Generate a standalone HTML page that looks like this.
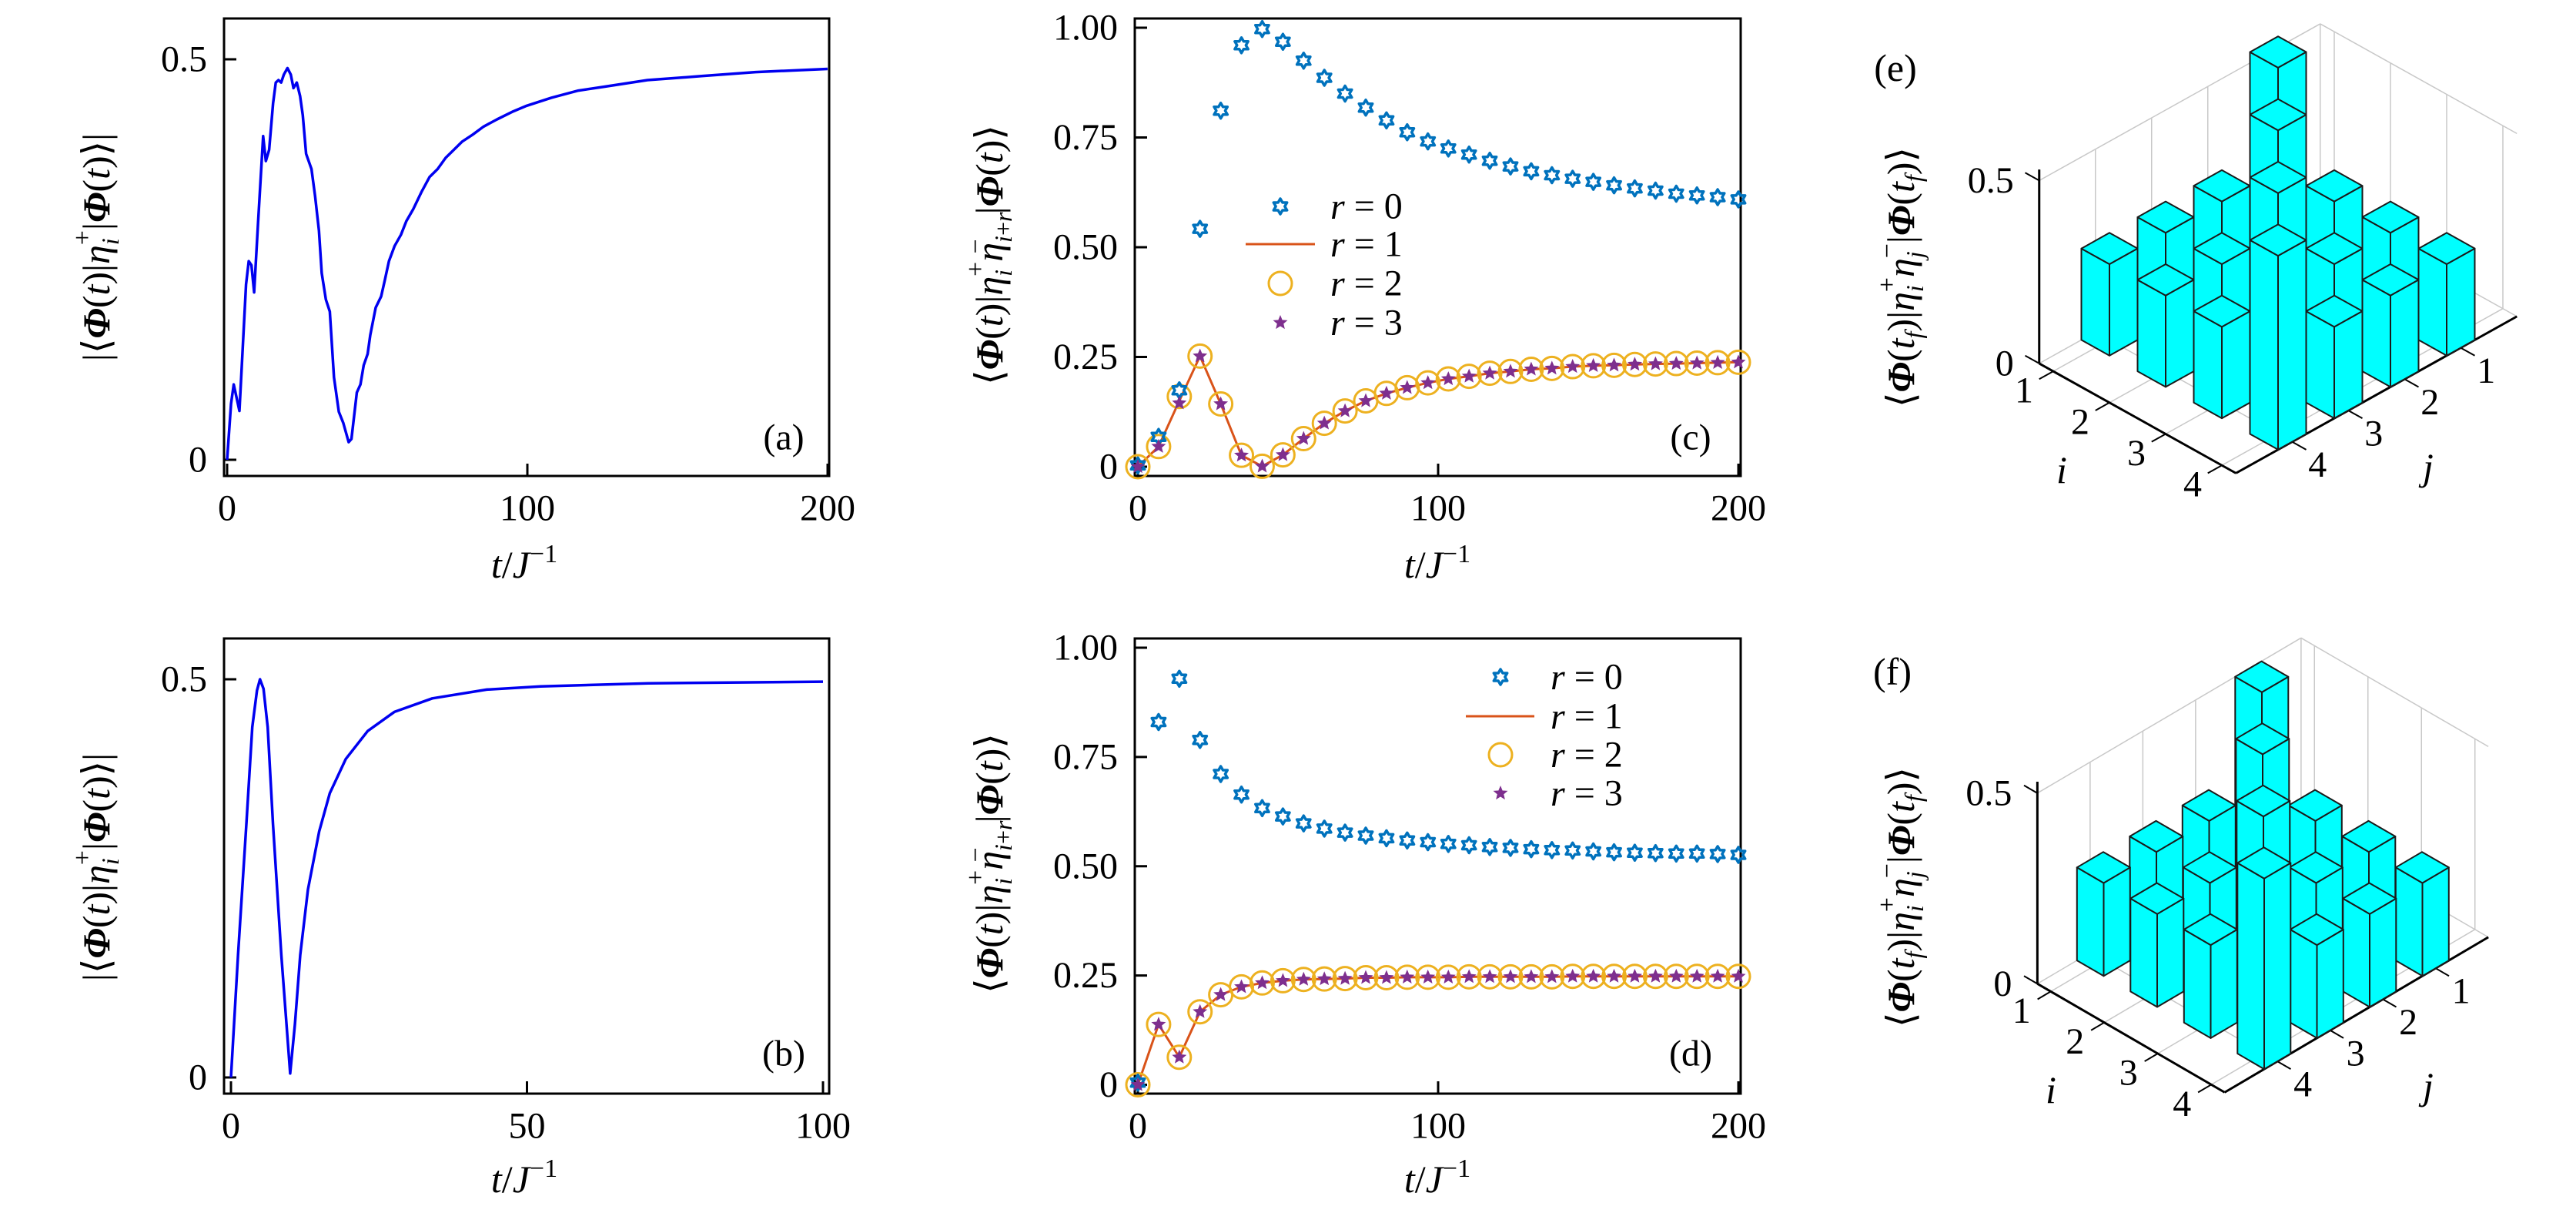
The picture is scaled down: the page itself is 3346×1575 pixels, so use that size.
<!DOCTYPE html>
<html><head><meta charset="utf-8"><style>
html,body{margin:0;padding:0;background:#fff;}
svg{display:block;font-family:"Liberation Serif",serif;}
</style></head><body>
<svg id="fig" xmlns="http://www.w3.org/2000/svg" width="3346" height="1575" viewBox="0 0 3346 1575">
<rect width="3346" height="1575" fill="#fff"/>
<g id="gA"></g>
<g id="gB"></g>
<g id="gC"></g>
<g id="gD"></g>
<g id="gE"></g>
<g id="gF"></g>

<!-- y titles -->
<text transform="translate(142,321) rotate(-90)" text-anchor="middle" font-size="50">|⟨<tspan font-style="italic" font-weight="bold">Φ</tspan>(<tspan font-style="italic">t</tspan>)|<tspan font-style="italic">η</tspan><tspan font-size="32" dy="12" font-style="italic">i</tspan><tspan font-size="34" dx="-9" dy="-36">+</tspan><tspan dy="24">|</tspan><tspan font-style="italic" font-weight="bold">Φ</tspan>(<tspan font-style="italic">t</tspan>)⟩|</text>
<text transform="translate(142,1126) rotate(-90)" text-anchor="middle" font-size="50">|⟨<tspan font-style="italic" font-weight="bold">Φ</tspan>(<tspan font-style="italic">t</tspan>)|<tspan font-style="italic">η</tspan><tspan font-size="32" dy="12" font-style="italic">i</tspan><tspan font-size="34" dx="-9" dy="-36">+</tspan><tspan dy="24">|</tspan><tspan font-style="italic" font-weight="bold">Φ</tspan>(<tspan font-style="italic">t</tspan>)⟩|</text>
<text transform="translate(1302,331) rotate(-90)" text-anchor="middle" font-size="50">⟨<tspan font-style="italic" font-weight="bold">Φ</tspan>(<tspan font-style="italic">t</tspan>)|<tspan font-style="italic">η</tspan><tspan font-size="32" dy="12" font-style="italic">i</tspan><tspan font-size="34" dx="-9" dy="-36">+</tspan><tspan font-style="italic" dy="24">η</tspan><tspan font-size="32" dy="12" font-style="italic">i</tspan><tspan font-size="32" dy="0">+</tspan><tspan font-size="32" font-style="italic">r</tspan><tspan font-size="34" dx="-54" dy="-36">−</tspan><tspan dx="32" dy="24">|</tspan><tspan font-style="italic" font-weight="bold">Φ</tspan>(<tspan font-style="italic">t</tspan>)⟩</text>
<text transform="translate(1302,1121) rotate(-90)" text-anchor="middle" font-size="50">⟨<tspan font-style="italic" font-weight="bold">Φ</tspan>(<tspan font-style="italic">t</tspan>)|<tspan font-style="italic">η</tspan><tspan font-size="32" dy="12" font-style="italic">i</tspan><tspan font-size="34" dx="-9" dy="-36">+</tspan><tspan font-style="italic" dy="24">η</tspan><tspan font-size="32" dy="12" font-style="italic">i</tspan><tspan font-size="32" dy="0">+</tspan><tspan font-size="32" font-style="italic">r</tspan><tspan font-size="34" dx="-54" dy="-36">−</tspan><tspan dx="32" dy="24">|</tspan><tspan font-style="italic" font-weight="bold">Φ</tspan>(<tspan font-style="italic">t</tspan>)⟩</text>
<text transform="translate(2486,360) rotate(-90)" text-anchor="middle" font-size="50">⟨<tspan font-style="italic" font-weight="bold">Φ</tspan>(<tspan font-style="italic">t</tspan><tspan font-size="32" dy="10" font-style="italic">f</tspan><tspan dy="-10">)|</tspan><tspan font-style="italic">η</tspan><tspan font-size="32" dy="12" font-style="italic">i</tspan><tspan font-size="34" dx="-9" dy="-36">+</tspan><tspan font-style="italic" dy="24">η</tspan><tspan font-size="32" dy="12" font-style="italic">j</tspan><tspan font-size="34" dx="-9" dy="-36">−</tspan><tspan dy="24">|</tspan><tspan font-style="italic" font-weight="bold">Φ</tspan>(<tspan font-style="italic">t</tspan><tspan font-size="32" dy="10" font-style="italic">f</tspan><tspan dy="-10">)⟩</tspan></text>
<text transform="translate(2486,1165) rotate(-90)" text-anchor="middle" font-size="50">⟨<tspan font-style="italic" font-weight="bold">Φ</tspan>(<tspan font-style="italic">t</tspan><tspan font-size="32" dy="10" font-style="italic">f</tspan><tspan dy="-10">)|</tspan><tspan font-style="italic">η</tspan><tspan font-size="32" dy="12" font-style="italic">i</tspan><tspan font-size="34" dx="-9" dy="-36">+</tspan><tspan font-style="italic" dy="24">η</tspan><tspan font-size="32" dy="12" font-style="italic">j</tspan><tspan font-size="34" dx="-9" dy="-36">−</tspan><tspan dy="24">|</tspan><tspan font-style="italic" font-weight="bold">Φ</tspan>(<tspan font-style="italic">t</tspan><tspan font-size="32" dy="10" font-style="italic">f</tspan><tspan dy="-10">)⟩</tspan></text>

<!-- x titles -->
<text x="681" y="750" text-anchor="middle" font-size="50"><tspan font-style="italic">t</tspan>/<tspan font-style="italic">J</tspan><tspan font-size="34" dy="-20">−1</tspan></text>
<text x="681" y="1548" text-anchor="middle" font-size="50"><tspan font-style="italic">t</tspan>/<tspan font-style="italic">J</tspan><tspan font-size="34" dy="-20">−1</tspan></text>
<text x="1867" y="750" text-anchor="middle" font-size="50"><tspan font-style="italic">t</tspan>/<tspan font-style="italic">J</tspan><tspan font-size="34" dy="-20">−1</tspan></text>
<text x="1867" y="1548" text-anchor="middle" font-size="50"><tspan font-style="italic">t</tspan>/<tspan font-style="italic">J</tspan><tspan font-size="34" dy="-20">−1</tspan></text>

<!-- panel labels -->
<text x="1018" y="568" text-anchor="middle" dominant-baseline="central" font-size="48">(a)</text>
<text x="1018" y="1368" text-anchor="middle" dominant-baseline="central" font-size="48">(b)</text>
<text x="2196" y="568" text-anchor="middle" dominant-baseline="central" font-size="48">(c)</text>
<text x="2196" y="1368" text-anchor="middle" dominant-baseline="central" font-size="48">(d)</text>
<text x="2462" y="88" text-anchor="middle" dominant-baseline="central" font-size="50">(e)</text>
<text x="2458" y="872" text-anchor="middle" dominant-baseline="central" font-size="50">(f)</text>

<!-- legends -->
<g font-size="48">
<text x="1728" y="268" dominant-baseline="central"><tspan font-style="italic">r</tspan> = 0</text>
<text x="1728" y="317" dominant-baseline="central"><tspan font-style="italic">r</tspan> = 1</text>
<text x="1728" y="368" dominant-baseline="central"><tspan font-style="italic">r</tspan> = 2</text>
<text x="1728" y="419" dominant-baseline="central"><tspan font-style="italic">r</tspan> = 3</text>
</g>
<g font-size="48">
<text x="2014" y="879" dominant-baseline="central"><tspan font-style="italic">r</tspan> = 0</text>
<text x="2014" y="930" dominant-baseline="central"><tspan font-style="italic">r</tspan> = 1</text>
<text x="2014" y="980" dominant-baseline="central"><tspan font-style="italic">r</tspan> = 2</text>
<text x="2014" y="1030" dominant-baseline="central"><tspan font-style="italic">r</tspan> = 3</text>
</g>
</svg>
<script>
// ---- data ----
const tA = [0,1.3,2.2,4.1,6.3,7.2,8.1,9,10.3,12,12.9,14,15.3,16.2,17.1,18,18.9,20.1,21.2,22.1,23.2,24.3,25.2,26.3,28.1,29.3,30.6,31.5,32.9,34.2,35.6,37.2,38.7,40.5,41.4,43.2,44.4,45.5,46.8,47.7,49.5,51.3,52.5,53.9,55.8,57.9,59.7,62,64.7,67.4,70.1,72.8,75.5,78.2,81.8,85.4,89.9,95.3,99.8,108,117,126,140,158,176,200];
const vA = [0,0.07,0.094,0.061,0.219,0.248,0.243,0.209,0.296,0.404,0.373,0.387,0.445,0.471,0.474,0.471,0.481,0.489,0.481,0.464,0.471,0.454,0.43,0.382,0.363,0.329,0.286,0.233,0.2,0.185,0.103,0.06,0.046,0.022,0.026,0.084,0.094,0.118,0.132,0.156,0.19,0.204,0.224,0.248,0.267,0.281,0.298,0.313,0.334,0.353,0.363,0.377,0.387,0.397,0.406,0.416,0.425,0.435,0.442,0.452,0.461,0.466,0.474,0.479,0.484,0.488];
const tB = [0,1.2,2.6,3.6,4.4,4.9,5.5,6.2,7.1,8.5,10,10.8,11.7,13,14.9,16.7,19.4,23.1,27.6,34,43.2,52.3,70.5,100];
const vB = [0,0.154,0.318,0.44,0.486,0.5,0.488,0.44,0.318,0.154,0.005,0.067,0.154,0.236,0.309,0.357,0.4,0.435,0.459,0.476,0.487,0.491,0.495,0.497];
const tGrid = [0,6.9,13.8,20.7,27.6,34.5,41.4,48.3,55.2,62.1,69,75.9,82.8,89.7,96.6,103.4,110.3,117.2,124.1,131,137.9,144.8,151.7,158.6,165.5,172.4,179.3,186.2,193.1,200];
const c0 = [0.003,0.068,0.174,0.542,0.811,0.96,0.997,0.968,0.925,0.886,0.85,0.818,0.789,0.762,0.741,0.725,0.711,0.697,0.684,0.673,0.664,0.656,0.649,0.641,0.634,0.629,0.622,0.618,0.614,0.609];
const c1 = [0,0.046,0.15,0.252,0.143,0.026,0.001,0.027,0.064,0.099,0.127,0.15,0.167,0.18,0.191,0.2,0.206,0.213,0.217,0.222,0.224,0.228,0.23,0.231,0.233,0.234,0.235,0.236,0.237,0.238];
const c2 = [0,0.046,0.16,0.252,0.143,0.026,0.001,0.027,0.064,0.099,0.127,0.15,0.167,0.18,0.191,0.2,0.206,0.213,0.217,0.222,0.224,0.228,0.23,0.231,0.233,0.234,0.235,0.236,0.237,0.238];
const c3 = [0,0.046,0.145,0.252,0.143,0.026,0.001,0.027,0.064,0.099,0.127,0.15,0.167,0.18,0.191,0.2,0.206,0.213,0.217,0.222,0.224,0.228,0.23,0.231,0.233,0.234,0.235,0.236,0.237,0.238];
const d0 = [0.005,0.83,0.929,0.789,0.711,0.664,0.633,0.614,0.598,0.586,0.577,0.57,0.564,0.559,0.555,0.551,0.548,0.544,0.542,0.539,0.537,0.536,0.534,0.532,0.531,0.53,0.529,0.529,0.528,0.526];
const d1 = [0,0.138,0.063,0.167,0.206,0.224,0.233,0.238,0.241,0.242,0.243,0.245,0.245,0.246,0.246,0.246,0.247,0.247,0.247,0.247,0.247,0.248,0.248,0.248,0.248,0.248,0.248,0.248,0.248,0.248];
const d2 = [0,0.138,0.063,0.167,0.206,0.224,0.233,0.238,0.241,0.242,0.243,0.245,0.245,0.246,0.246,0.246,0.247,0.247,0.247,0.247,0.247,0.248,0.248,0.248,0.248,0.248,0.248,0.248,0.248,0.248];
const d3 = [0,0.138,0.063,0.167,0.206,0.224,0.233,0.238,0.241,0.242,0.243,0.245,0.245,0.246,0.246,0.246,0.247,0.247,0.247,0.247,0.247,0.248,0.248,0.248,0.248,0.248,0.248,0.248,0.248,0.248];
const eVals = [[0.53,0.25,0.25,0.25],[0.25,0.53,0.25,0.25],[0.25,0.25,0.53,0.25],[0.25,0.25,0.25,0.53]];
const fVals = [[0.50,0.244,0.244,0.244],[0.244,0.50,0.244,0.244],[0.244,0.244,0.50,0.244],[0.244,0.244,0.244,0.50]];
const ticksA = [0,100,200], ticksB = [0,50,100], ticksCx = [0,100,200];
const yTicksAB = [0,0.5], yLabAB = ["0","0.5"];
const yTicksCD = [0,0.25,0.5,0.75,1], yLabCD = ["0","0.25","0.50","0.75","1.00"];
const idx3 = [1,2,3,4];

const NS = "http://www.w3.org/2000/svg";
const FS = 48;
function mk(tag, attrs, parent){ const e=document.createElementNS(NS,tag); for(const k in attrs) e.setAttribute(k,attrs[k]); parent.appendChild(e); return e; }

function axes2d(g, box, sx, sy, xt, xl, yt, yl){
  mk('rect',{x:box.l,y:box.t,width:box.r-box.l,height:box.b-box.t,fill:'none',stroke:'#000','stroke-width':3},g);
  xt.forEach((v,k)=>{
    const x=sx(v);
    const tk=mk('line',{x1:x,x2:x,y1:box.b,y2:box.b-16,stroke:'#000','stroke-width':3},g);
    
    
    const t=mk('text',{x:x,y:box.b+42,'text-anchor':'middle','dominant-baseline':'central','font-size':FS},g);
    t.textContent=xl[k];
    
    
  });
  yt.forEach((v,k)=>{
    const y=sy(v);
    const tk=mk('line',{x1:box.l,x2:box.l+16,y1:y,y2:y,stroke:'#000','stroke-width':3},g);
    
    
    const t=mk('text',{x:box.l-22,y:y,'text-anchor':'end','dominant-baseline':'central','font-size':FS},g);
    t.textContent=yl[k];
    
    
  });
}
function linePath(ts, vs, sx, sy){ return ts.map((t,k)=>(k?'L':'M')+sx(t).toFixed(1)+','+sy(vs[k]).toFixed(1)).join(''); }
function hexPts(cx,cy,R){ const r=R/Math.sqrt(3); let p=[]; for(let k=0;k<12;k++){const a=-Math.PI/2+k*Math.PI/6; const rr=k%2?r:R; p.push((cx+rr*Math.cos(a)).toFixed(1)+','+(cy+rr*Math.sin(a)).toFixed(1));} return p.join(' '); }
function pentPts(cx,cy,R){ const r=R*0.45; let p=[]; for(let k=0;k<10;k++){const a=-Math.PI/2+k*Math.PI/5; const rr=k%2?r:R; p.push((cx+rr*Math.cos(a)).toFixed(1)+','+(cy+rr*Math.sin(a)).toFixed(1));} return p.join(' '); }
function hex(g,x,y){ return mk('polygon',{points:hexPts(x,y,10),fill:'none',stroke:'#0072BD','stroke-width':3.5,'stroke-linejoin':'round'},g); }
function circ(g,x,y){ return mk('circle',{cx:x,cy:y,r:15,fill:'none',stroke:'#EDB120','stroke-width':3},g); }
function pent(g,x,y){ return mk('polygon',{points:pentPts(x,y,8),fill:'#7E2F8E',stroke:'#7E2F8E','stroke-width':1.5},g); }

// ---- panel a ----
(function(){
  const g=document.getElementById('gA');
  const box={l:291,r:1077,t:24,b:618};
  const sx=t=>295+t*3.9, sy=v=>597-v*1040;
  axes2d(g,box,sx,sy,ticksA,["0","100","200"],yTicksAB,yLabAB);
  const p=mk('path',{d:linePath(tA,vA,sx,sy),fill:'none',stroke:'#0000F0','stroke-width':3.5,'stroke-linejoin':'round'},g);
  
  
})();
// ---- panel b ----
(function(){
  const g=document.getElementById('gB');
  const box={l:291,r:1077,t:829,b:1420};
  const sx=t=>300+t*7.69, sy=v=>1399-v*1034;
  axes2d(g,box,sx,sy,ticksB,["0","50","100"],yTicksAB,yLabAB);
  const p=mk('path',{d:linePath(tB,vB,sx,sy),fill:'none',stroke:'#0000F0','stroke-width':3.5,'stroke-linejoin':'round'},g);
  
  
})();
// ---- panels c,d ----
function corrPanel(gid, box, y0, yscale, s0, s1, s2, s3, leg){
  const g=document.getElementById(gid);
  const sx=t=>1478+t*3.9, sy=v=>y0-v*yscale;
  axes2d(g,box,sx,sy,ticksCx,["0","100","200"],yTicksCD,yLabCD);
  const p=mk('path',{d:linePath(tGrid,s1,sx,sy),fill:'none',stroke:'#D95319','stroke-width':3},g);
  
  
  tGrid.forEach((t,k)=>{
    const c=circ(g,sx(t),sy(s2[k]));
    
    
  });
  tGrid.forEach((t,k)=>{
    const h=hex(g,sx(t),sy(s0[k]));
    
    
  });
  tGrid.forEach((t,k)=>{
    const q=pent(g,sx(t),sy(s3[k]));
    
    
  });
  const h=hex(g,leg.mx,leg.y[0]);
  
  
  const l=mk('line',{x1:leg.l1,x2:leg.l2,y1:leg.y[1],y2:leg.y[1],stroke:'#D95319','stroke-width':3},g);
  
  
  const c=circ(g,leg.mx,leg.y[2]);
  
  
  const q=pent(g,leg.mx,leg.y[3]);
  
  
}
corrPanel('gC',{l:1474,r:2261,t:24,b:618},606,570,c0,c1,c2,c3,{mx:1663,l1:1618,l2:1708,y:[268,317,368,419]});
corrPanel('gD',{l:1474,r:2261,t:829,b:1420},1408.5,567.5,d0,d1,d2,d3,{mx:1949,l1:1904,l2:1993,y:[879,930,980,1030]});

// ---- 3D bars ----
function bars3d(gid, C, si, sj, zs, vals, lab){
  const g=document.getElementById(gid);
  const P=(i,j,z)=>[C[0]+(i-4)*si[0]+(j-4)*sj[0], C[1]+(i-4)*si[1]+(j-4)*sj[1]-z*zs];
  const pt=a=>a[0].toFixed(1)+','+a[1].toFixed(1);
  const ln=(a,b,st,w,name)=>{ const e=mk('line',{x1:a[0],y1:a[1],x2:b[0],y2:b[1],stroke:st,'stroke-width':w},g);   return e; };
  const I0=0.75,I1=4.25,J0=0,J1=5,ZT=0.5;
  const gc='#c8c8c8';
  idx3.forEach(j=>{ ln(P(I0,j,0),P(I0,j,ZT),gc,1.5,'wall-grid'); ln(P(I0,j,0),P(I1,j,0),gc,1.5,'floor-grid'); });
  idx3.forEach(i=>{ ln(P(i,J0,0),P(i,J0,ZT),gc,1.5,'wall-grid'); ln(P(i,J0,0),P(i,J1,0),gc,1.5,'floor-grid'); });
  ln(P(I0,J0,0),P(I0,J0,ZT),gc,1.5,'wall-grid');
  ln(P(I0,J1,ZT),P(I0,J0,ZT),gc,1.5,'wall-grid');
  ln(P(I0,J0,ZT),P(I1,J0,ZT),gc,1.5,'wall-grid');
  ln(P(I0,J0,0),P(I1,J0,0),gc,1.5,'floor-grid');
  ln(P(I0,J0,0),P(I0,J1,0),gc,1.5,'floor-grid');
  ln(P(I0,J1,0),P(I1,J1,0),'#000',3,'i-axis');
  ln(P(I1,J1,0),P(I1,J0,0),'#000',3,'j-axis');
  ln(P(I0,J1,0),P(I0,J1,0.53),'#000',3,'z-axis');
  [0,0.5].forEach((z,k)=>{
    const a=P(I0,J1,z), b=[a[0]-0.25*si[0],a[1]-0.25*si[1]];
    ln(a,b,'#000',2,'z-tick');
    const t=mk('text',{x:a[0]-33,y:a[1],'text-anchor':'end','dominant-baseline':'central','font-size':FS},g);
    t.textContent=k?'0.5':'0';
    
    
  });
  idx3.forEach(i=>{
    const a=P(i,J1,0), b=P(i,J1+0.25,0);
    ln(a,b,'#000',2,'i-tick');
    const t=mk('text',{x:a[0]-38,y:a[1]+25,'text-anchor':'middle','dominant-baseline':'central','font-size':FS},g);
    t.textContent=String(i);
    
    
  });
  idx3.forEach(j=>{
    const a=P(I1,j,0), b=P(I1+0.25,j,0);
    ln(a,b,'#000',2,'j-tick');
    const t=mk('text',{x:a[0]+33,y:a[1]+30,'text-anchor':'middle','dominant-baseline':'central','font-size':FS},g);
    t.textContent=String(j);
    
    
  });
  const ti=mk('text',{x:lab.i[0],y:lab.i[1],'text-anchor':'middle','dominant-baseline':'central','font-size':50,'font-style':'italic'},g);
  ti.textContent='i';
  
  
  const tj=mk('text',{x:lab.j[0],y:lab.j[1],'text-anchor':'middle','dominant-baseline':'central','font-size':50,'font-style':'italic'},g);
  tj.textContent='j';
  
  
  const cells=[];
  for(let i=1;i<=4;i++) for(let j=1;j<=4;j++) cells.push([i,j]);
  cells.sort((a,b)=>(a[0]+a[1])-(b[0]+b[1]));
  const w=0.25;
  cells.forEach(([i,j])=>{
    const h=vals[i-1][j-1];
    const bg=mk('g',{},g);
    
    
    const Lb=P(i-w,j+w,0), Fb=P(i+w,j+w,0), Rb=P(i+w,j-w,0);
    const Lt=P(i-w,j+w,h), Ft=P(i+w,j+w,h), Rt=P(i+w,j-w,h), Bt=P(i-w,j-w,h);
    const st={fill:'#00FFFF',stroke:'#1a1a1a','stroke-width':2,'stroke-linejoin':'round'};
    mk('polygon',Object.assign({points:[Lb,Fb,Ft,Lt].map(pt).join(' ')},st),bg);
    mk('polygon',Object.assign({points:[Fb,Rb,Rt,Ft].map(pt).join(' ')},st),bg);
    mk('polygon',Object.assign({points:[Lt,Ft,Rt,Bt].map(pt).join(' ')},st),bg);
  });
}
bars3d('gE',[2959,563.5],[73,40.7],[-73,40.7],475,eVals,{i:[2678,610],j:[3154,606]});
bars3d('gF',[2940.75,1368],[69.5,40.3],[-68.5,40.3],495,fVals,{i:[2664,1415],j:[3154,1410]});
</script>
</body></html>
